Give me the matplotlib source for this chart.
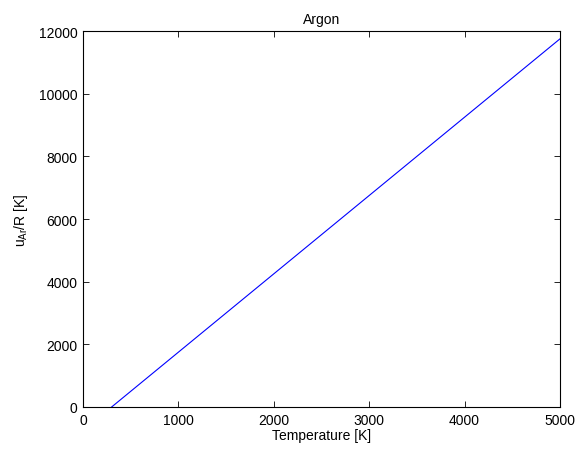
import numpy as np
import matplotlib
matplotlib.use('Agg')
import matplotlib.pyplot as plt

plt.rcParams['font.family'] = ['Liberation Sans', 'DejaVu Sans']
plt.rcParams['mathtext.fontset'] = 'custom'
plt.rcParams['mathtext.rm'] = 'Liberation Sans'
plt.rcParams['mathtext.it'] = 'Liberation Sans'

# internal energy of argon over R, vs temperature
T = [300, 5000]
u_R = [0, 11750]

fig = plt.figure(figsize=(5.82, 4.52), dpi=100)
ax = fig.add_axes([83/582, 44/452, 477/582, 376/452])
ax.plot(T, u_R, color='blue', linewidth=0.8)
ax.set_xlim(0, 5000)
ax.set_ylim(0, 12000)
ax.set_xticks(np.arange(0, 5001, 1000))
ax.set_yticks(np.arange(0, 12001, 2000))
ax.tick_params(direction='in', top=True, right=True, labelsize=10, length=4, width=0.6, pad=4)
for s in ax.spines.values():
    s.set_linewidth(0.8)
ax.set_xlabel('Temperature [K]', fontsize=10, labelpad=1)
ax.set_ylabel(r'$\mathregular{u_{Ar}}$/R [K]', fontsize=10, labelpad=6)
ax.set_title('Argon', fontsize=10, pad=6)
fig.savefig('out.png', dpi=100)
